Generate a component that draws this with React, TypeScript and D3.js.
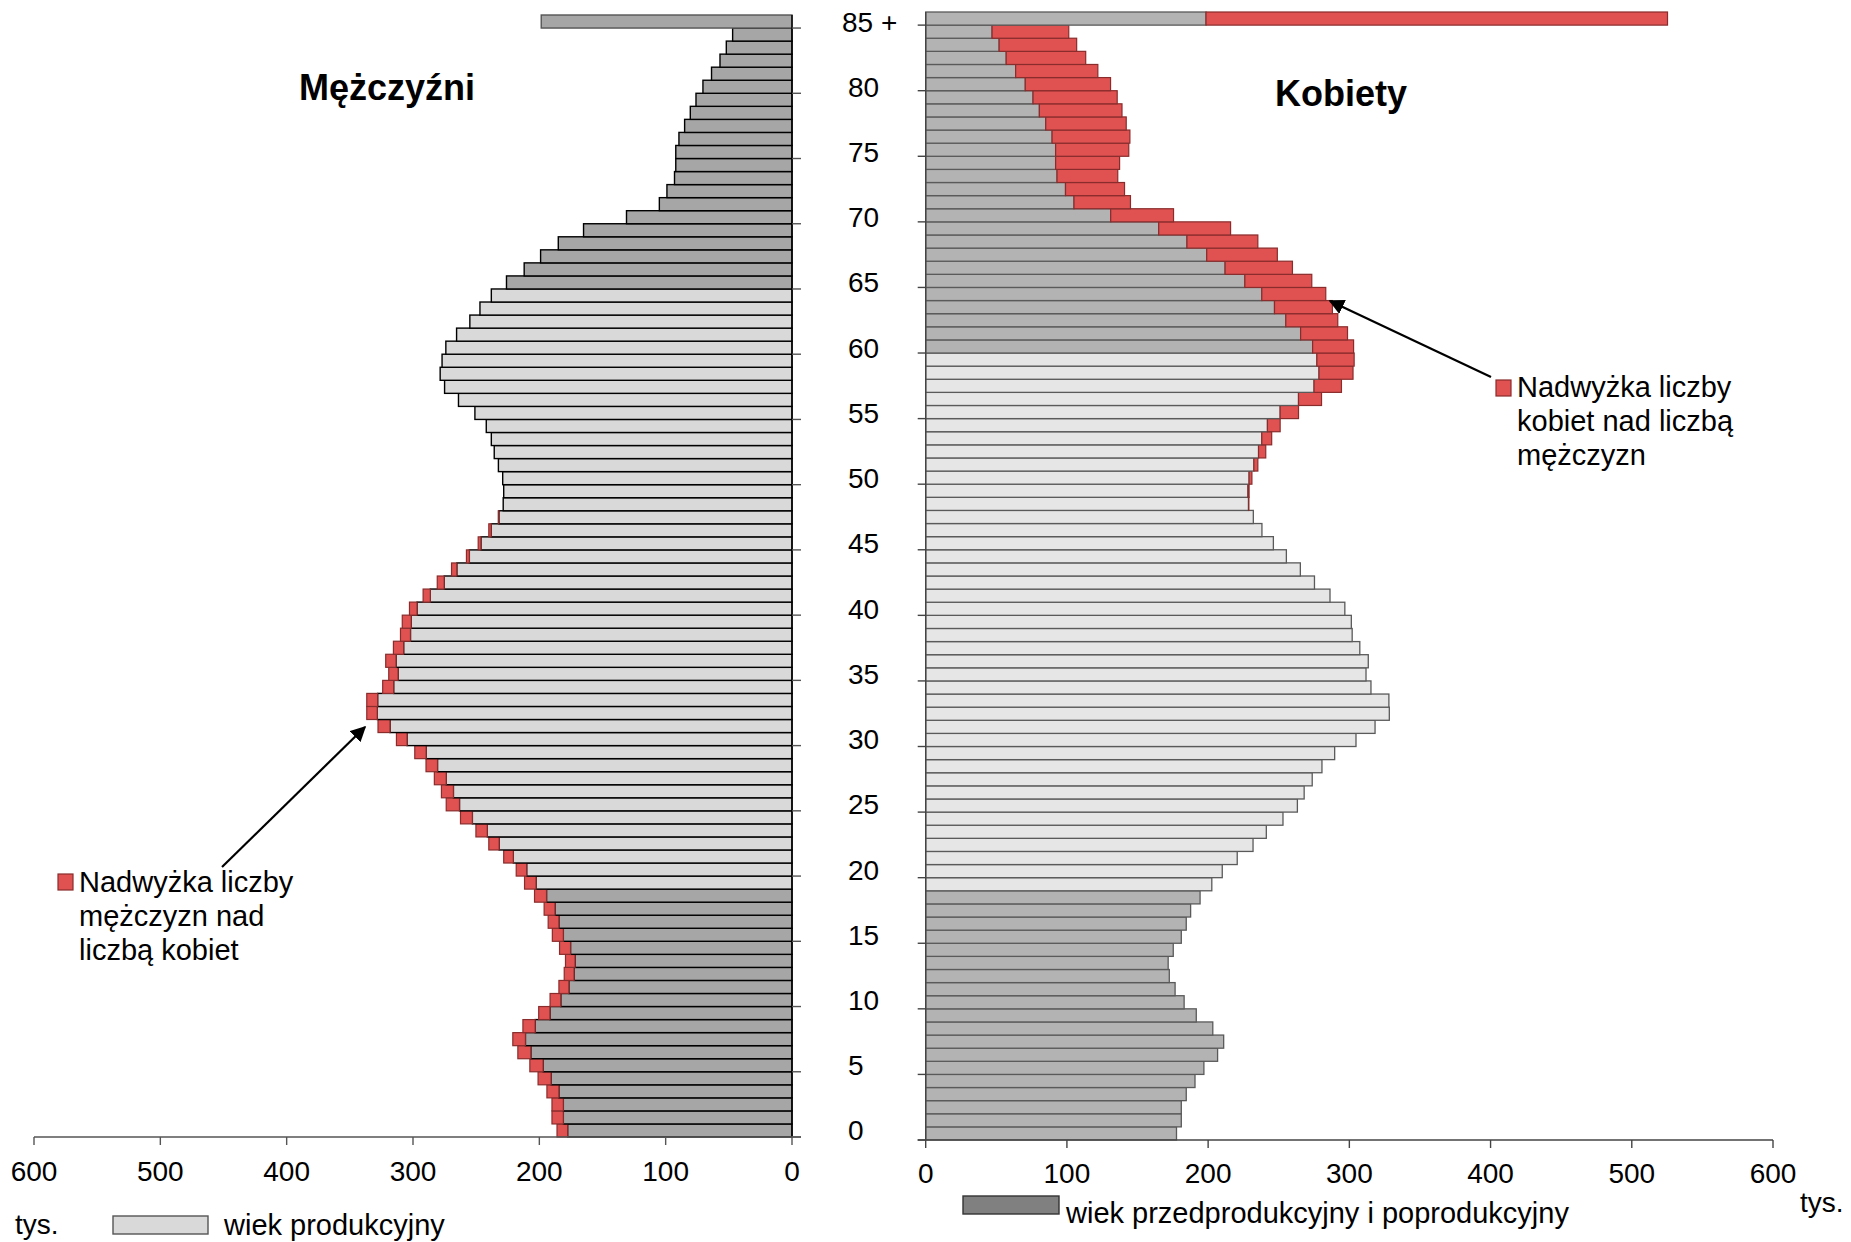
import React from 'react';
import * as d3 from 'd3';

// age groups 0..84 and "85 +"
const AGES = d3.range(86);
const ageLabel = (a: number) => (a === 85 ? '85 +' : String(a));
const AGE_TICKS = [0, 5, 10, 15, 20, 25, 30, 35, 40, 45, 50, 55, 60, 65, 70, 75, 80, 85];
const VALUE_TICKS = [0, 100, 200, 300, 400, 500, 600];

// thousands of people
const men = [
  186, 190, 190, 194, 201, 207.5, 217, 221, 213, 200.5,
  191.5, 184.5, 180.3, 179.3, 184, 189.7, 193, 196.2, 203.8, 211.7,
  218.3, 228.2, 240, 250.2, 262.4, 273.7, 277.5, 283.1, 289.7, 298.6,
  313.1, 327.7, 336.6, 336.6, 324, 319.2, 321.6, 315.5, 309.9, 308.5,
  302.8, 292, 280.8, 269.5, 257.7, 248.4, 240, 232.5, 228.6, 228.2,
  229, 232.4, 235.7, 238, 242, 251, 264, 275, 278.5, 277,
  274, 265.5, 255, 247, 238, 226, 212, 199, 185, 165,
  131, 105, 99, 93, 92, 92, 89.5, 85, 80.5, 76,
  70.5, 63.7, 57, 52, 47, 198.5,
];

const women = [
  177.6, 181, 181, 184.5, 190.7, 197, 206.7, 211, 203.3, 191.6,
  183, 176.6, 172.5, 171.7, 175.3, 181, 184.5, 187.6, 194.3, 202.6,
  210, 220.6, 231.8, 241.2, 253, 263.2, 268, 273.7, 280.6, 289.6,
  304.7, 318.2, 328.3, 328, 315.3, 311.8, 313.4, 307.4, 302, 301.4,
  296.8, 286.3, 275.3, 265.3, 255.4, 246.2, 238.1, 232, 228.8, 229,
  231, 235.2, 240.8, 245, 251, 264, 280.3, 294.4, 302.6, 303.4,
  303, 298.7, 291.8, 288, 283.3, 273.4, 259.7, 249, 235.2, 215.9,
  175.5, 145, 140.8, 136, 137.3, 143.8, 144.6, 142, 139, 135.6,
  130.9, 121.9, 113.3, 106.9, 101.3, 525.3,
];

// working age (wiek produkcyjny)
const MEN_WORK = [19, 64];
const WOMEN_WORK = [19, 59];

const FONT = '"Liberation Sans", Arial, Helvetica, sans-serif';
const RED = '#e05252';
const RED_STROKE = '#8a2c2c';

export default function App() {
  const W = 1851;
  const H = 1242;

  const xL = d3.scaleLinear().domain([0, 600]).range([792, 34]);
  const xR = d3.scaleLinear().domain([0, 600]).range([925.7, 1773]);
  const order = AGES.slice().reverse();
  const yL = d3.scaleBand<number>().domain(order).range([15, 1137]).padding(0);
  const yR = d3.scaleBand<number>().domain(order).range([12, 1140]).padding(0);

  const isWork = (a: number, r: number[]) => a >= r[0] && a <= r[1];

  return (
    <svg
      width={W}
      height={H}
      style={{ position: 'absolute', left: 0, top: 0, background: '#fff' }}
      fontFamily={FONT}
    >
      <defs>
        <marker id="arr" viewBox="0 0 10 10" refX="9" refY="5" markerWidth="7" markerHeight="7" orient="auto">
          <path d="M0,0 L10,5 L0,10 z" fill="#000" />
        </marker>
      </defs>

      {/* men, left */}
      <g>
        {AGES.map((a) => {
          const m = men[a];
          const w = women[a];
          const lo = Math.min(m, w);
          const y = yL(a)!;
          const h = yL.bandwidth();
          return (
            <g key={'m' + a}>
              <rect
                x={xL(lo)}
                y={y}
                width={xL(0) - xL(lo)}
                height={h}
                fill={isWork(a, MEN_WORK) ? '#d9d9d9' : '#a6a6a6'}
                stroke={a === 85 ? '#555' : '#000'}
                strokeWidth={1.4}
              />
              {m > w && (
                <rect x={xL(m)} y={y} width={xL(w) - xL(m)} height={h} fill={RED} stroke={RED_STROKE} strokeWidth={1.2} />
              )}
            </g>
          );
        })}
        <line x1={xL(0)} x2={xL(0)} y1={15} y2={1137} stroke="#000" strokeWidth={1.4} />
        {AGE_TICKS.map((a) => (
          <line key={'tl' + a} x1={xL(0)} x2={xL(0) + 9} y1={yL(a)! + yL.bandwidth()} y2={yL(a)! + yL.bandwidth()} stroke="#555" strokeWidth={1.4} />
        ))}
        <line x1={xL(600)} x2={xL(0) + 9} y1={1137} y2={1137} stroke="#555" strokeWidth={1.4} />
        {VALUE_TICKS.map((v) => (
          <g key={'vl' + v}>
            <line x1={xL(v)} x2={xL(v)} y1={1137} y2={1145} stroke="#555" strokeWidth={1.4} />
            <text x={xL(v)} y={1181} fontSize={28} textAnchor="middle" fill="#000">{v}</text>
          </g>
        ))}
      </g>

      {/* women, right */}
      <g>
        {AGES.map((a) => {
          const m = men[a];
          const w = women[a];
          const lo = Math.min(m, w);
          const y = yR(a)!;
          const h = yR.bandwidth();
          return (
            <g key={'w' + a}>
              <rect
                x={xR(0)}
                y={y}
                width={xR(lo) - xR(0)}
                height={h}
                fill={isWork(a, WOMEN_WORK) ? '#e6e6e6' : '#b3b3b3'}
                stroke="#5a5a5a"
                strokeWidth={1.3}
              />
              {w > m && (
                <rect x={xR(m)} y={y} width={xR(w) - xR(m)} height={h} fill={RED} stroke={RED_STROKE} strokeWidth={1.2} />
              )}
            </g>
          );
        })}
        <line x1={xR(0)} x2={xR(0)} y1={12} y2={1140} stroke="#444" strokeWidth={1.4} />
        {AGE_TICKS.map((a) => (
          <line key={'tr' + a} x1={xR(0) - 8} x2={xR(0)} y1={yR(a)! + yR.bandwidth()} y2={yR(a)! + yR.bandwidth()} stroke="#444" strokeWidth={1.4} />
        ))}
        <line x1={xR(0) - 8} x2={xR(600)} y1={1140} y2={1140} stroke="#444" strokeWidth={1.4} />
        {VALUE_TICKS.map((v) => (
          <g key={'vr' + v}>
            <line x1={xR(v)} x2={xR(v)} y1={1140} y2={1148} stroke="#444" strokeWidth={1.4} />
            <text x={xR(v)} y={1183} fontSize={28} textAnchor="middle" fill="#000">{v}</text>
          </g>
        ))}
      </g>

      {/* age labels between the panels */}
      {AGE_TICKS.map((a) => (
        <text key={'al' + a} x={a === 85 ? 842 : 848} y={yL(a)! + yL.bandwidth() / 2 + 10} fontSize={28} fill="#000">
          {ageLabel(a)}
        </text>
      ))}

      {/* titles */}
      <text x={387} y={100} fontSize={36} fontWeight="bold" textAnchor="middle">Mężczyźni</text>
      <text x={1341} y={106} fontSize={36} fontWeight="bold" textAnchor="middle">Kobiety</text>

      {/* annotations */}
      <line x1={222} y1={867} x2={365} y2={727} stroke="#000" strokeWidth={2.2} markerEnd="url(#arr)" />
      <rect x={58} y={874} width={15} height={16} fill={RED} stroke={RED_STROKE} strokeWidth={1.2} />
      <text fontSize={29} fill="#000">
        <tspan x={79} y={892}>Nadwyżka liczby</tspan>
        <tspan x={79} y={926}>mężczyzn nad</tspan>
        <tspan x={79} y={960}>liczbą kobiet</tspan>
      </text>

      <line x1={1491} y1={377} x2={1330} y2={301} stroke="#000" strokeWidth={2.2} markerEnd="url(#arr)" />
      <rect x={1496} y={380} width={15} height={16} fill={RED} stroke={RED_STROKE} strokeWidth={1.2} />
      <text fontSize={29} fill="#000">
        <tspan x={1517} y={397}>Nadwyżka liczby</tspan>
        <tspan x={1517} y={431}>kobiet nad liczbą</tspan>
        <tspan x={1517} y={465}>mężczyzn</tspan>
      </text>

      {/* units and legend */}
      <text x={15} y={1234} fontSize={28}>tys.</text>
      <rect x={113} y={1216} width={95} height={18} fill="#d9d9d9" stroke="#555" strokeWidth={1.4} />
      <text x={224} y={1235} fontSize={29}>wiek produkcyjny</text>

      <rect x={963} y={1196} width={96} height={18} fill="#808080" stroke="#333" strokeWidth={1.4} />
      <text x={1066} y={1223} fontSize={29}>wiek przedprodukcyjny i poprodukcyjny</text>
      <text x={1800} y={1212} fontSize={28}>tys.</text>
    </svg>
  );
}
